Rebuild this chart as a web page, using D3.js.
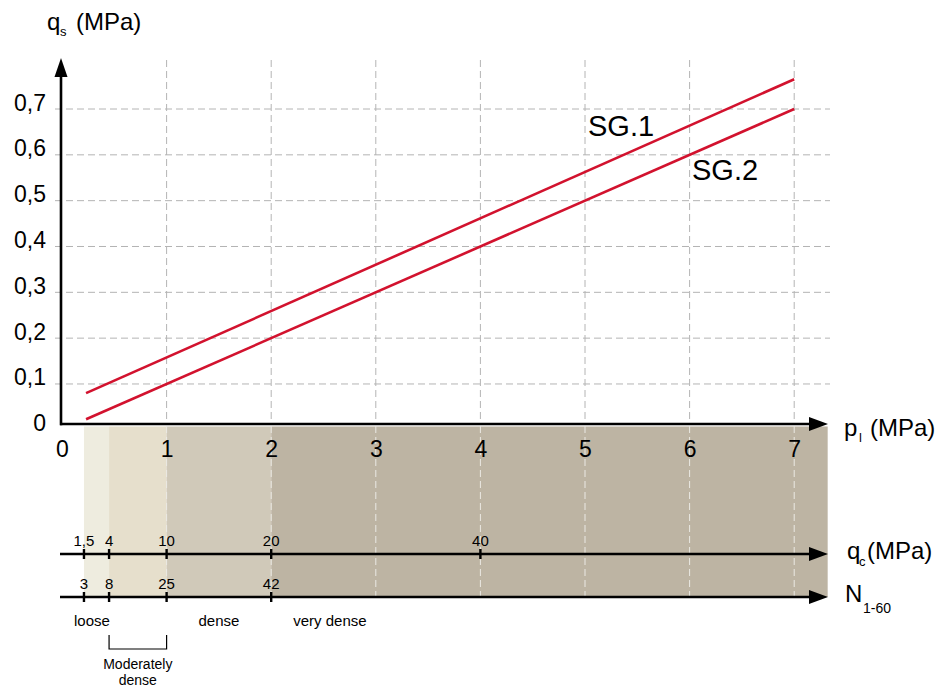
<!DOCTYPE html>
<html><head><meta charset="utf-8">
<script src="https://cdn.jsdelivr.net/npm/d3@7"></script>
<style>
body{margin:0;background:#fff}
text{font-family:"Liberation Sans",Arial,Helvetica,sans-serif;fill:#000}
</style>
</head><body>
<svg id="c" width="943" height="689"></svg>
<script>
// ---------- data ----------
const plTicks = [0, 1, 2, 3, 4, 5, 6, 7];
const qsTicks = [0, 0.1, 0.2, 0.3, 0.4, 0.5, 0.6, 0.7];
const seriesNames = ["SG.1", "SG.2"];
const seriesPl = [0.23, 7];
const sg1 = [0.08, 0.765];
const sg2 = [0.023, 0.70];
const qcTicks = [1.5, 4, 10, 20, 40];
const qcAtPl = [0.21, 0.45, 1, 2, 4];
const nTicks = [3, 8, 25, 42];
const nAtPl = [0.21, 0.45, 1, 2];
const bandEdgesPl = [0.21, 0.45, 1, 2, 7.32];
const classNames = ["loose", "Moderately dense", "dense", "very dense"];

// ---------- layout / style ----------
const bandColors = ["#eeecdf", "#e6dfcc", "#d0c9b9", "#bdb4a3"];
const red = "#d2122e";
const svg = d3.select("#c");
const x = d3.scaleLinear().domain([0, 7]).range([62, 794.2]);
const y = d3.scaleLinear().domain([0, 0.7]).range([429.8, 109]);
const axisYpx = 424, qcYpx = 554, nYpx = 597, bandTop = 426.5, gridTop = 60, xEnd = 828;
const loc = d3.formatLocale({decimal: ",", thousands: " ", grouping: [3], currency: ["", ""]});
const fmt = v => v === 0 ? "0" : loc.format(",.1f")(v);

// bands
svg.append("g").selectAll("rect").data(bandColors).join("rect")
  .attr("x", (d, i) => x(bandEdgesPl[i]))
  .attr("width", (d, i) => x(bandEdgesPl[i + 1]) - x(bandEdgesPl[i]))
  .attr("y", bandTop).attr("height", nYpx - bandTop)
  .attr("fill", d => d);

// horizontal grid
svg.append("g").selectAll("line").data(qsTicks.filter(d => d > 0)).join("line")
  .attr("x1", 55).attr("x2", 830)
  .attr("y1", d => y(d)).attr("y2", d => y(d))
  .attr("stroke", "#b4b4b4").attr("stroke-width", 1).attr("stroke-dasharray", "7,4");

// vertical grid (above axis, and lighter within band)
const vg = svg.append("g");
vg.selectAll("line.a").data(plTicks.filter(d => d > 0)).join("line").attr("class", "a")
  .attr("x1", d => x(d)).attr("x2", d => x(d))
  .attr("y1", gridTop).attr("y2", axisYpx)
  .attr("stroke", "#b4b4b4").attr("stroke-width", 1).attr("stroke-dasharray", "7,4");
vg.selectAll("line.b").data(plTicks.filter(d => d > 0)).join("line").attr("class", "b")
  .attr("x1", d => x(d)).attr("x2", d => x(d))
  .attr("y1", axisYpx + 2).attr("y2", nYpx)
  .attr("stroke", "#ebe9e4").attr("stroke-width", 1).attr("stroke-dasharray", "7,4");

// series lines
const series = [sg1, sg2];
const line = d3.line().x(d => x(d[0])).y(d => y(d[1]));
svg.append("g").selectAll("path").data(series).join("path")
  .attr("d", s => line(seriesPl.map((p, i) => [p, s[i]])))
  .attr("fill", "none").attr("stroke", red).attr("stroke-width", 2.6);

// series labels
const sgLabelPos = [[588, 136], [692, 180]];
svg.append("g").selectAll("text").data(seriesNames).join("text")
  .attr("x", (d, i) => sgLabelPos[i][0]).attr("y", (d, i) => sgLabelPos[i][1])
  .attr("font-size", 29).text(d => d);

// axes lines with arrows
function arrowH(yy) {
  svg.append("line").attr("x1", 60).attr("x2", xEnd - 12).attr("y1", yy).attr("y2", yy)
    .attr("stroke", "#000").attr("stroke-width", 2.6);
  svg.append("path").attr("d", `M${xEnd},${yy} L${xEnd - 19},${yy - 7} L${xEnd - 19},${yy + 7} Z`).attr("fill", "#000");
}
arrowH(axisYpx);
arrowH(qcYpx);
arrowH(nYpx);
svg.append("line").attr("x1", 61).attr("x2", 61).attr("y1", axisYpx + 1.3).attr("y2", 70)
  .attr("stroke", "#000").attr("stroke-width", 2.6);
svg.append("path").attr("d", `M61,58 L54.5,77 L67.5,77 Z`).attr("fill", "#000");

// x axis ticks (pl)
const gx = svg.append("g").attr("transform", `translate(0,${axisYpx})`)
  .call(d3.axisBottom(x).tickValues(plTicks).tickSize(0).tickPadding(0).tickFormat(d3.format("d")));
gx.select(".domain").remove();
gx.selectAll("text").attr("font-size", 23).attr("dy", 0).attr("y", 33)
  .style("font-family", '"Liberation Sans",Arial,sans-serif').attr("fill", "#000");

// y axis ticks (qs)
const gy = svg.append("g").attr("transform", "translate(46,0)")
  .call(d3.axisLeft(y).tickValues(qsTicks).tickSize(0).tickPadding(0).tickFormat(fmt));
gy.select(".domain").remove();
gy.selectAll("text").attr("font-size", 23).attr("dy", 0).attr("y", 1)
  .style("font-family", '"Liberation Sans",Arial,sans-serif').attr("fill", "#000");

// qc and N ticks
function subAxis(vals, pls, yy, labelFmt) {
  const g = svg.append("g");
  g.selectAll("line").data(pls).join("line")
    .attr("x1", d => x(d)).attr("x2", d => x(d)).attr("y1", yy - 5).attr("y2", yy + 5)
    .attr("stroke", "#000").attr("stroke-width", 2.4);
  g.selectAll("text").data(vals).join("text")
    .attr("x", (d, i) => x(pls[i])).attr("y", yy - 8).attr("text-anchor", "middle")
    .attr("font-size", 15).text(labelFmt);
}
subAxis(qcTicks, qcAtPl, qcYpx, d => loc.format(",")(d).replace(".", ","));
subAxis(nTicks, nAtPl, nYpx, d => String(d));

// axis titles
function title(px, py, main, sub, rest, subDx, subDy, restX, subSize) {
  svg.append("text").attr("x", px).attr("y", py).attr("font-size", 24).text(main);
  svg.append("text").attr("x", px + subDx).attr("y", py + subDy).attr("font-size", subSize).text(sub);
  if (rest) svg.append("text").attr("x", restX).attr("y", py).attr("font-size", 24).text(rest);
}
title(47, 30, "q", "s", "(MPa)", 13, 6, 76, 13);
title(844, 436, "p", "l", "(MPa)", 15, 6, 870, 13);
title(847, 559, "q", "c", "(MPa)", 12, 7, 867, 13);
title(845, 602, "N", "1-60", null, 18, 11, 0, 14);

// density classes
const cls = svg.append("g").attr("font-size", 15);
cls.append("text").attr("x", x(bandEdgesPl[0]) + 8).attr("y", 626).attr("text-anchor", "middle").text(classNames[0]);
cls.append("text").attr("x", (x(bandEdgesPl[2]) + x(bandEdgesPl[3])) / 2).attr("y", 626).attr("text-anchor", "middle").text(classNames[2]);
cls.append("text").attr("x", x(bandEdgesPl[3]) + 22).attr("y", 626).attr("text-anchor", "start").text(classNames[3]);
const mx1 = x(bandEdgesPl[1]), mx2 = x(bandEdgesPl[2]);
svg.append("path").attr("d", `M${mx1},635 V649 H${mx2} V635`).attr("fill", "none").attr("stroke", "#000").attr("stroke-width", 1.2);
const md = classNames[1].split(" ");
cls.append("text").attr("x", (mx1 + mx2) / 2).attr("y", 669).attr("font-size", 14).attr("text-anchor", "middle").text(md[0]);
cls.append("text").attr("x", (mx1 + mx2) / 2).attr("y", 685).attr("font-size", 14).attr("text-anchor", "middle").text(md[1]);
</script>
</body></html>
